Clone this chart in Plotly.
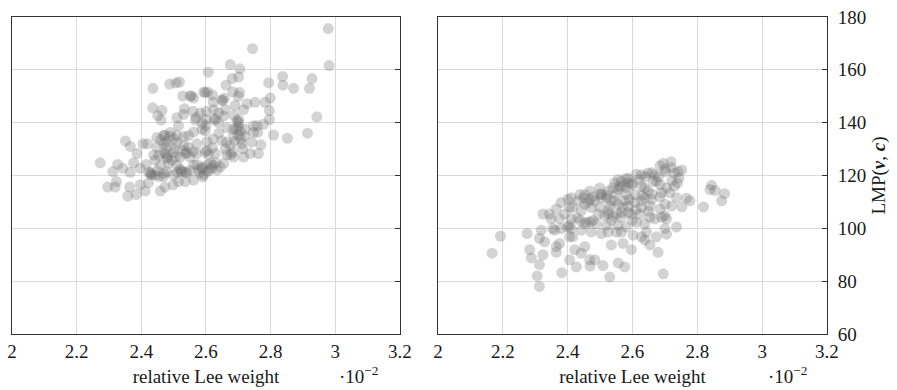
import plotly.graph_objects as go

# Left panel: relative Lee weight (x 10^-2) vs LMP(v, c)
left_w = [
    2.978, 2.744, 2.981, 2.675, 2.705, 2.607, 2.837, 2.928, 2.794, 2.838,
    2.871, 2.920, 2.681, 2.701, 2.662, 2.488, 2.508, 2.518, 2.436, 2.593,
    2.605, 2.683, 2.704, 2.528, 2.555, 2.562, 2.649, 2.657, 2.622, 2.727,
    2.752, 2.783, 2.799, 2.435, 2.464, 2.451, 2.461, 2.533, 2.560, 2.582,
    2.601, 2.624, 2.531, 2.510, 2.567, 2.601, 2.629, 2.655, 2.696, 2.796,
    2.796, 2.943, 2.778, 2.758, 2.515, 2.588, 2.598, 2.562, 2.490, 2.473,
    2.448, 2.510, 2.665, 2.685, 2.701, 2.706, 2.747, 2.809, 2.852, 2.914,
    2.351, 2.366, 2.405, 2.419, 2.470, 2.387, 2.448, 2.479, 2.501, 2.531,
    2.546, 2.572, 2.603, 2.622, 2.649, 2.675, 2.711, 2.742, 2.770, 2.438,
    2.474, 2.505, 2.536, 2.572, 2.598, 2.629, 2.665, 2.685, 2.716, 2.737,
    2.762, 2.273, 2.327, 2.312, 2.343, 2.366, 2.376, 2.397, 2.415, 2.428,
    2.459, 2.443, 2.484, 2.510, 2.526, 2.541, 2.572, 2.588, 2.603, 2.622,
    2.644, 2.593, 2.500, 2.469, 2.515, 2.536, 2.562, 2.323, 2.296, 2.319,
    2.364, 2.397, 2.422, 2.459, 2.473, 2.498, 2.358, 2.384, 2.412, 2.433,
    2.454, 2.423, 2.479, 2.523, 2.536, 2.512, 2.588, 2.603, 2.615, 2.618,
    2.471, 2.479, 2.541, 2.603, 2.608, 2.694, 2.701, 2.685, 2.708, 2.677,
    2.683, 2.663, 2.626, 2.639, 2.652, 2.598, 2.551, 2.469, 2.477, 2.488,
    2.454, 2.443, 2.495, 2.521, 2.551, 2.562, 2.577, 2.634, 2.655, 2.714,
    2.721, 2.747, 2.760, 2.687, 2.701, 2.716, 2.639, 2.588, 2.546, 2.531,
    2.500, 2.430, 2.450, 2.470, 2.520, 2.550, 2.580, 2.590, 2.610, 2.630,
    2.480, 2.500, 2.530, 2.560, 2.620, 2.660, 2.690, 2.700, 2.720, 2.640,
    2.600, 2.570, 2.660, 2.690, 2.620, 2.700, 2.460, 2.510,
]
left_lmp = [
    175.6, 168.0, 161.6, 162.0, 160.4, 159.1, 157.5, 156.7, 155.1, 154.2,
    153.0, 153.0, 156.7, 157.3, 154.2, 154.6, 155.1, 155.4, 153.0, 151.6,
    151.6, 151.7, 151.4, 150.1, 150.1, 149.3, 148.6, 149.3, 147.8, 147.2,
    147.7, 147.7, 149.3, 145.6, 144.7, 142.7, 141.0, 145.3, 144.3, 143.7,
    144.3, 144.9, 143.1, 141.9, 141.0, 141.2, 141.0, 142.5, 140.6, 144.6,
    141.2, 142.2, 139.4, 138.8, 138.8, 137.5, 136.9, 136.5, 136.3, 135.3,
    134.4, 135.1, 138.1, 137.5, 140.0, 136.9, 136.3, 135.3, 134.1, 136.0,
    133.1, 131.0, 132.0, 132.0, 132.0, 128.3, 130.7, 130.7, 130.1, 131.4,
    130.7, 132.0, 132.8, 133.8, 133.2, 131.4, 132.0, 132.6, 131.6, 127.7,
    128.3, 127.0, 128.3, 128.3, 128.9, 128.3, 127.9, 127.0, 127.0, 128.3,
    128.3, 124.8, 124.2, 121.5, 122.7, 121.2, 124.8, 122.7, 124.2, 120.5,
    123.9, 120.2, 124.6, 123.9, 121.5, 120.9, 124.2, 122.7, 121.5, 123.9,
    123.3, 120.2, 120.2, 119.6, 117.7, 117.7, 118.3, 117.7, 115.6, 115.6,
    115.6, 116.5, 117.2, 114.1, 115.6, 116.5, 112.2, 112.8, 114.1, 120.2,
    119.6, 121.2, 121.5, 121.7, 121.2, 121.2, 123.0, 124.0, 124.6, 122.7,
    128.6, 127.0, 128.6, 129.5, 127.9, 137.5, 135.3, 135.1, 133.8, 127.9,
    128.9, 132.6, 141.5, 143.7, 148.4, 151.4, 150.1, 135.1, 132.8, 134.8,
    127.7, 125.8, 125.8, 127.0, 127.0, 124.0, 122.1, 122.1, 124.6, 130.1,
    137.5, 138.8, 136.3, 142.7, 141.2, 144.9, 140.0, 139.8, 135.1, 134.8,
    133.8, 121.0, 121.8, 120.8, 122.5, 121.9, 121.0, 119.5, 122.0, 124.8,
    126.5, 128.8, 129.5, 129.0, 130.5, 130.0, 133.0, 138.5, 135.0, 136.0,
    139.0, 142.0, 145.0, 146.5, 150.5, 150.0, 133.5, 132.5,
]

# Right panel
right_w = [
    2.695, 2.719, 2.685, 2.752, 2.702, 2.729, 2.743, 2.721, 2.739, 2.648,
    2.628, 2.612, 2.587, 2.566, 2.545, 2.597, 2.674, 2.685, 2.638, 2.705,
    2.715, 2.844, 2.839, 2.855, 2.884, 2.875, 2.819, 2.767, 2.777, 2.752,
    2.736, 2.721, 2.701, 2.685, 2.659, 2.638, 2.607, 2.581, 2.556, 2.525,
    2.499, 2.469, 2.453, 2.438, 2.411, 2.504, 2.469, 2.556, 2.535, 2.587,
    2.607, 2.628, 2.587, 2.566, 2.535, 2.525, 2.494, 2.473, 2.442, 2.406,
    2.365, 2.344, 2.324, 2.375, 2.411, 2.458, 2.489, 2.520, 2.555, 2.623,
    2.654, 2.690, 2.700, 2.612, 2.638, 2.736, 2.700, 2.566, 2.525, 2.473,
    2.442, 2.411, 2.380, 2.354, 2.319, 2.275, 2.313, 2.329, 2.406, 2.375,
    2.602, 2.638, 2.654, 2.679, 2.705, 2.535, 2.571, 2.597, 2.453, 2.422,
    2.365, 2.324, 2.283, 2.288, 2.406, 2.468, 2.484, 2.427, 2.469, 2.509,
    2.556, 2.576, 2.313, 2.306, 2.382, 2.530, 2.695, 2.313, 2.193, 2.167,
    2.416, 2.453, 2.438, 2.360, 2.391, 2.416, 2.380, 2.401, 2.530, 2.545,
    2.576, 2.581, 2.648, 2.664, 2.628, 2.587, 2.561, 2.504, 2.483, 2.463,
    2.628, 2.654, 2.685, 2.705, 2.669, 2.566, 2.551, 2.597, 2.643, 2.628,
    2.674, 2.504, 2.551, 2.581, 2.478, 2.514, 2.525, 2.349, 2.406, 2.365,
    2.442, 2.741, 2.669, 2.581, 2.556, 2.540, 2.520, 2.453, 2.432, 2.450,
    2.480, 2.500, 2.520, 2.550, 2.570, 2.600, 2.620, 2.640, 2.660, 2.680,
    2.700, 2.720, 2.590, 2.610, 2.630, 2.660, 2.690, 2.730, 2.500, 2.540,
    2.570, 2.600, 2.650, 2.430, 2.400, 2.470,
]
right_lmp = [
    124.6, 125.2, 123.7, 122.1, 121.5, 120.9, 119.0, 118.0, 117.2, 120.9,
    120.2, 120.5, 118.8, 117.8, 117.2, 116.5, 117.8, 116.5, 115.3, 115.3,
    113.5, 116.3, 114.7, 114.3, 113.1, 110.4, 108.1, 111.4, 110.4, 108.1,
    111.6, 108.5, 109.1, 111.9, 111.0, 111.6, 112.8, 115.3, 114.7, 114.1,
    115.3, 114.1, 112.8, 112.8, 111.6, 111.6, 111.0, 109.1, 110.4, 108.5,
    109.8, 107.9, 106.0, 104.2, 103.0, 105.4, 105.4, 107.9, 106.7, 107.9,
    107.3, 105.4, 105.4, 103.6, 103.6, 102.3, 101.7, 101.1, 101.1, 105.4,
    104.2, 104.2, 104.8, 102.3, 101.7, 100.5, 99.9, 98.6, 98.6, 98.6,
    99.3, 99.9, 99.9, 99.9, 99.3, 98.0, 96.2, 94.9, 96.8, 94.3,
    97.4, 95.6, 93.7, 90.9, 97.8, 93.7, 94.3, 91.9, 93.1, 91.9,
    90.9, 90.0, 91.9, 88.8, 88.1, 88.1, 88.1, 85.4, 85.7, 85.9,
    86.9, 85.4, 86.3, 82.0, 83.2, 81.6, 82.8, 78.0, 97.0, 90.6,
    96.8, 101.7, 103.0, 99.3, 105.4, 107.9, 109.8, 111.0, 108.5, 110.4,
    110.4, 112.8, 114.1, 117.8, 115.9, 117.2, 115.9, 112.8, 110.4, 109.8,
    110.4, 108.5, 107.3, 103.6, 103.6, 106.0, 105.4, 105.4, 98.6, 96.8,
    96.8, 98.0, 98.6, 100.5, 103.0, 104.8, 106.7, 103.6, 101.1, 93.1,
    90.6, 121.5, 120.2, 119.0, 118.4, 115.3, 111.6, 109.1, 110.4, 111.5,
    112.0, 113.0, 112.5, 113.0, 116.0, 117.0, 118.5, 119.5, 121.0, 119.5,
    122.5, 123.0, 111.0, 107.0, 112.5, 113.0, 113.5, 116.0, 108.0, 104.5,
    108.0, 103.0, 106.5, 104.0, 100.5, 102.5,
]

x_ticks = [2, 2.2, 2.4, 2.6, 2.8, 3, 3.2]
y_ticks = [60, 80, 100, 120, 140, 160, 180]

FONT = "Liberation Serif"
FSIZE = 19
TXT = "#1a1a1a"
GRID = "#dadada"
FRAME = "#333333"
marker = dict(size=11, color="rgb(110,110,110)", opacity=0.3, line=dict(width=0))

fig = go.Figure()
fig.add_trace(go.Scatter(x=left_w, y=left_lmp, mode="markers", marker=marker,
                         xaxis="x", yaxis="y", showlegend=False, hoverinfo="skip"))
fig.add_trace(go.Scatter(x=right_w, y=right_lmp, mode="markers", marker=marker,
                         xaxis="x2", yaxis="y2", showlegend=False, hoverinfo="skip"))

xcommon = dict(range=[2, 3.2], tickvals=x_ticks, ticktext=[f"{t:g}" for t in x_ticks],
               showgrid=True, gridcolor=GRID, gridwidth=1, zeroline=False,
               showline=True, linecolor=FRAME, linewidth=1, mirror=True,
               ticks="", ticklabeloverflow="allow",
               tickfont=dict(family=FONT, size=FSIZE, color=TXT),
               title=dict(text="relative Lee weight", font=dict(family=FONT, size=FSIZE, color=TXT),
                          standoff=8))
ycommon = dict(range=[60, 180], tickvals=y_ticks, showgrid=True, gridcolor=GRID,
               gridwidth=1, zeroline=False, showline=True, linecolor=FRAME, linewidth=1,
               mirror=True, side="right", ticks="inside", ticklen=5, tickcolor=FRAME,
               ticklabeloverflow="allow",
               tickfont=dict(family=FONT, size=FSIZE, color=TXT))

fig.update_layout(
    width=897, height=390,
    margin=dict(l=10, r=70, t=7, b=56),
    paper_bgcolor="white", plot_bgcolor="white",
    xaxis=dict(domain=[0, 0.476], anchor="y", **xcommon),
    xaxis2=dict(domain=[0.5226, 1], anchor="y2", **xcommon),
    yaxis=dict(domain=[0, 1], anchor="x", showticklabels=False, **ycommon),
    yaxis2=dict(domain=[0, 1], anchor="x2", showticklabels=True,
                ticklabelstandoff=6,
                title=dict(text="LMP(<b><i>v</i></b>, <b><i>c</i></b>)",
                           font=dict(family=FONT, size=FSIZE, color=TXT), standoff=6),
                **ycommon),
)

# axis multiplier labels
for xp in [0.425, 0.952]:
    fig.add_annotation(text="·10<sup>−2</sup>", xref="paper", yref="paper",
                       x=xp, y=-0.13, yanchor="middle", xanchor="center", showarrow=False,
                       font=dict(family=FONT, size=FSIZE, color=TXT))

fig.write_html("out.html")
